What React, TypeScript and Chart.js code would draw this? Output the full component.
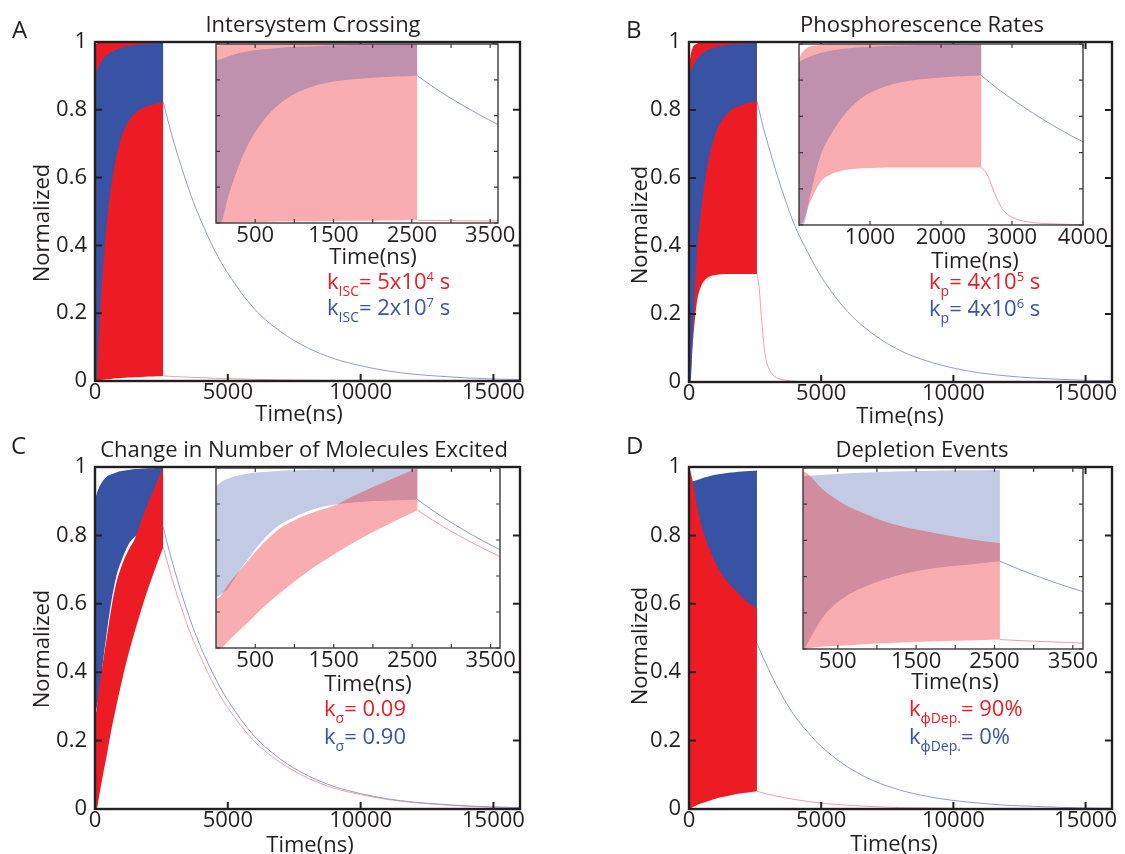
import React, { useEffect, useRef } from 'react';
import { Chart, registerables } from 'chart.js';

Chart.register(...registerables);

// ---------------- data ----------------
// time grid (ns) of the pulse-train envelopes
const TIME_BAND = [0, 60, 150, 300, 450, 600, 800, 1000, 1250, 1500, 1750, 2000, 2300, 2570];
// time grid (ns) of the decays after the pulse train
const TIME_DECAY = [2570, 2800, 3000, 3300, 3600, 4000, 4500, 5000, 6000, 7000, 8000, 9000, 10000, 11000, 12000, 13000, 14000, 15000, 16000];
const TIME_DECAY_FAST = [2570, 2650, 2720, 2790, 2860, 2950, 3100, 3300, 3600, 4000, 4500, 5000, 16000];

// A – Intersystem Crossing
const A_RED_LOW = [0, 0.001, 0.002, 0.004, 0.005, 0.006, 0.008, 0.009, 0.01, 0.011, 0.012, 0.013, 0.014, 0.015];
const A_RED_HIGH = [0.99, 0.995, 1, 1, 1, 1, 1, 1, 1, 1, 1, 1, 1, 1];
const A_BLUE_LOW = [0, 0, 0.14, 0.33, 0.47, 0.57, 0.66, 0.72, 0.765, 0.79, 0.803, 0.812, 0.818, 0.823];
const A_BLUE_HIGH = [0.91, 0.915, 0.93, 0.95, 0.962, 0.97, 0.978, 0.984, 0.988, 0.991, 0.993, 0.995, 0.996, 0.997];
const A_BLUE_DECAY = [0.823, 0.752, 0.696, 0.62, 0.55, 0.471, 0.386, 0.318, 0.213, 0.145, 0.098, 0.066, 0.045, 0.03, 0.02, 0.014, 0.009, 0.006, 0.004];
const A_RED_DECAY = [0.015, 0.014, 0.013, 0.012, 0.011, 0.01, 0.008, 0.007, 0.005, 0.003, 0.002, 0.0015, 0.001, 0.0007, 0.0005, 0.0003, 0.0002, 0.0001, 0];

// B – Phosphorescence Rates
const B_RED_LOW = [0, 0.02, 0.12, 0.235, 0.28, 0.3, 0.311, 0.315, 0.317, 0.318, 0.318, 0.318, 0.318, 0.318];
const B_RED_HIGH = [0.92, 0.96, 0.985, 0.995, 1, 1, 1, 1, 1, 1, 1, 1, 1, 1];
const B_BLUE_LOW = [0, 0, 0.15, 0.38, 0.5, 0.59, 0.675, 0.73, 0.77, 0.793, 0.807, 0.815, 0.822, 0.826];
const B_BLUE_HIGH = [0.9, 0.915, 0.93, 0.95, 0.963, 0.972, 0.98, 0.985, 0.989, 0.992, 0.994, 0.995, 0.996, 0.997];
const B_BLUE_DECAY = [0.826, 0.752, 0.696, 0.617, 0.545, 0.46, 0.38, 0.31, 0.207, 0.139, 0.092, 0.062, 0.041, 0.027, 0.018, 0.012, 0.008, 0.005, 0.004];
const B_RED_DECAY = [0.318, 0.28, 0.21, 0.145, 0.09, 0.055, 0.028, 0.013, 0.006, 0.002, 0.0005, 0, 0];

// C – Change in Number of Molecules Excited
const C_RED_LOW = [0, 0, 0.035, 0.1, 0.16, 0.225, 0.3, 0.37, 0.45, 0.52, 0.585, 0.645, 0.71, 0.765];
const C_RED_HIGH = [0.27, 0.29, 0.35, 0.43, 0.505, 0.58, 0.66, 0.71, 0.755, 0.79, 0.845, 0.895, 0.95, 1.0];
const C_BLUE_LOW = [0.28, 0.296, 0.33, 0.43, 0.52, 0.6, 0.68, 0.727, 0.772, 0.796, 0.808, 0.816, 0.821, 0.824];
const C_BLUE_HIGH = [0.9, 0.92, 0.94, 0.96, 0.972, 0.978, 0.984, 0.988, 0.991, 0.994, 0.995, 0.996, 0.997, 0.998];
const C_BLUE_DECAY = [0.824, 0.753, 0.697, 0.62, 0.55, 0.47, 0.387, 0.318, 0.213, 0.145, 0.098, 0.066, 0.045, 0.03, 0.02, 0.014, 0.009, 0.006, 0.004];
const C_RED_DECAY = [0.765, 0.7, 0.648, 0.577, 0.512, 0.44, 0.36, 0.296, 0.198, 0.135, 0.091, 0.061, 0.042, 0.028, 0.019, 0.013, 0.008, 0.005, 0.004];

// D – Depletion Events
const D_RED_LOW = [0, 0.002, 0.006, 0.012, 0.016, 0.02, 0.025, 0.03, 0.035, 0.039, 0.043, 0.046, 0.049, 0.052];
const D_RED_HIGH = [1.0, 0.985, 0.955, 0.885, 0.835, 0.795, 0.755, 0.72, 0.685, 0.66, 0.64, 0.62, 0.6, 0.585];
const D_BLUE_LOW = [0, 0, 0.06, 0.17, 0.24, 0.29, 0.335, 0.37, 0.405, 0.43, 0.447, 0.46, 0.473, 0.485];
const D_BLUE_HIGH = [0.955, 0.955, 0.958, 0.962, 0.966, 0.97, 0.974, 0.977, 0.98, 0.983, 0.985, 0.987, 0.988, 0.99];
const D_BLUE_DECAY = [0.485, 0.443, 0.41, 0.363, 0.321, 0.272, 0.224, 0.183, 0.123, 0.082, 0.055, 0.037, 0.025, 0.017, 0.011, 0.008, 0.005, 0.003, 0.002];
const D_RED_DECAY = [0.052, 0.047, 0.043, 0.038, 0.033, 0.028, 0.022, 0.017, 0.011, 0.007, 0.004, 0.003, 0.002, 0.001, 0.0007, 0.0004, 0.0002, 0.0001, 0];

// ticks & labels
const MAIN_X_TICKS = [0, 5000, 10000, 15000];
const Y_TICKS = [0, 0.2, 0.4, 0.6, 0.8, 1];
const INSET_TICKS_500 = [500, 1000, 1500, 2000, 2500, 3000, 3500];
const INSET_LABELS_500 = [500, 1500, 2500, 3500];
const INSET_TICKS_1000 = [1000, 2000, 3000, 4000];
const TITLES = ['Intersystem Crossing', 'Phosphorescence Rates', 'Change in Number of Molecules Excited', 'Depletion Events'];
const LETTERS = ['A', 'B', 'C', 'D'];
const X_TITLE = 'Time(ns)';
const Y_TITLE = 'Normalized';

// ---------------- styles ----------------
const FONT = '"Open Sans", "Noto Sans", sans-serif';
const INK = '#231f20';
const RED = '#ED1C24';
const BLUE = '#3953A4';
const RED_INSET = 'rgba(237, 28, 36, 0.36)';
const BLUE_INSET = 'rgba(57, 83, 164, 0.30)';
const RED_LINE = '#f3a0a4';
const BLUE_LINE = '#8e9bd3';
const LEGEND_RED = '#ED1C24';
const LEGEND_BLUE = '#3b55a5';

const pts = (xs: number[], ys: number[]) => xs.map((x, i) => ({ x, y: ys[i] }));

const PANELS = [
  { redLow: A_RED_LOW, redHigh: A_RED_HIGH, blueLow: A_BLUE_LOW, blueHigh: A_BLUE_HIGH, blueDecay: A_BLUE_DECAY, redDecay: A_RED_DECAY, redDecayTime: TIME_DECAY, redOnTop: false },
  { redLow: B_RED_LOW, redHigh: B_RED_HIGH, blueLow: B_BLUE_LOW, blueHigh: B_BLUE_HIGH, blueDecay: B_BLUE_DECAY, redDecay: B_RED_DECAY, redDecayTime: TIME_DECAY_FAST, redOnTop: false },
  { redLow: C_RED_LOW, redHigh: C_RED_HIGH, blueLow: C_BLUE_LOW, blueHigh: C_BLUE_HIGH, blueDecay: C_BLUE_DECAY, redDecay: C_RED_DECAY, redDecayTime: TIME_DECAY, redOnTop: true },
  { redLow: D_RED_LOW, redHigh: D_RED_HIGH, blueLow: D_BLUE_LOW, blueHigh: D_BLUE_HIGH, blueDecay: D_BLUE_DECAY, redDecay: D_RED_DECAY, redDecayTime: TIME_DECAY, redOnTop: true },
];

// geometry of main plots (canvas boxes)
const MAIN_GEOM = [
  { left: 0, top: 0, w: 540, h: 432, padTop: 42, padRight: 20, xH: 51 },
  { left: 594, top: 0, w: 531, h: 432, padTop: 42, padRight: 13, xH: 50 },
  { left: 0, top: 427, w: 540, h: 427, padTop: 40, padRight: 20, xH: 45 },
  { left: 594, top: 427, w: 531, h: 427, padTop: 40, padRight: 13, xH: 45 },
];
// inset canvases
const INSET_GEOM = [
  { left: 196, top: 40, w: 332, h: 213, min: 0, max: 3600, ticks: INSET_TICKS_500, labels: INSET_LABELS_500 },
  { left: 779, top: 40, w: 334, h: 215, min: 0, max: 4000, ticks: INSET_TICKS_1000, labels: INSET_TICKS_1000 },
  { left: 196, top: 464, w: 334, h: 214, min: 0, max: 3620, ticks: INSET_TICKS_500, labels: INSET_LABELS_500 },
  { left: 783, top: 464, w: 330, h: 215, min: 57, max: 3630, ticks: INSET_TICKS_500, labels: INSET_LABELS_500 },
];

// ---------------- plugin: MATLAB-like box with inward ticks ----------------
const frameTicks = {
  id: 'frameTicks',
  beforeDraw(chart: any, _a: any, opts: any) {
    if (!opts || !opts.fillArea) return;
    const { ctx, chartArea: ca } = chart;
    ctx.save();
    ctx.fillStyle = opts.fillArea;
    ctx.fillRect(ca.left, ca.top, ca.right - ca.left, ca.bottom - ca.top);
    ctx.restore();
  },
  afterDraw(chart: any, _a: any, opts: any) {
    const { ctx, chartArea: ca } = chart;
    const xs = chart.scales.x;
    const ys = chart.scales.y;
    ctx.save();
    ctx.strokeStyle = opts.color;
    ctx.lineWidth = opts.tickWidth;
    ctx.beginPath();
    for (const t of xs.ticks) {
      const px = xs.getPixelForValue(t.value);
      ctx.moveTo(px, ca.bottom);
      ctx.lineTo(px, ca.bottom - opts.tickLen);
      ctx.moveTo(px, ca.top);
      ctx.lineTo(px, ca.top + opts.tickLen);
    }
    for (const t of ys.ticks) {
      const py = ys.getPixelForValue(t.value);
      ctx.moveTo(ca.left, py);
      ctx.lineTo(ca.left + opts.tickLen, py);
      ctx.moveTo(ca.right, py);
      ctx.lineTo(ca.right - opts.tickLen, py);
    }
    ctx.stroke();
    ctx.lineWidth = opts.lineWidth;
    ctx.strokeRect(ca.left, ca.top, ca.right - ca.left, ca.bottom - ca.top);
    ctx.restore();
  },
};

function makeDatasets(p: any, inset: boolean) {
  const redFill = inset ? RED_INSET : RED;
  const blueFill = inset ? BLUE_INSET : BLUE;
  const common = { pointRadius: 0, borderWidth: 0, cubicInterpolationMode: 'monotone' };
  const red: any[] = [
    { ...common, label: 'red peaks', data: pts(TIME_BAND, p.redHigh), backgroundColor: redFill },
    { ...common, label: 'red troughs', data: pts(TIME_BAND, p.redLow), fill: false },
  ];
  const blue: any[] = [
    { ...common, label: 'blue peaks', data: pts(TIME_BAND, p.blueHigh), backgroundColor: blueFill },
    { ...common, label: 'blue troughs', data: pts(TIME_BAND, p.blueLow), fill: false },
  ];
  const pairs = p.redOnTop ? [red, blue] : [blue, red];
  pairs[0][0].fill = 1;
  pairs[1][0].fill = 3;
  return [
    ...pairs[0],
    ...pairs[1],
    { ...common, label: 'blue decay', data: pts(TIME_DECAY, p.blueDecay), borderWidth: 1, borderColor: BLUE_LINE, fill: false },
    { ...common, label: 'red decay', data: pts(p.redDecayTime, p.redDecay), borderWidth: 1, borderColor: RED_LINE, fill: false },
  ];
}

const tickFont = { family: FONT, size: 22, lineHeight: 1 };

function mainConfig(i: number): any {
  const g = MAIN_GEOM[i];
  return {
    type: 'line',
    data: { datasets: makeDatasets(PANELS[i], false) },
    options: {
      animation: false,
      responsive: false,
      maintainAspectRatio: false,
      devicePixelRatio: 1,
      events: [],
      layout: { padding: { left: 0, top: g.padTop, right: g.padRight, bottom: 0 } },
      plugins: {
        legend: { display: false },
        tooltip: { enabled: false },
        frameTicks: { color: INK, lineWidth: 2.4, tickLen: 7, tickWidth: 2 },
      },
      scales: {
        x: {
          type: 'linear', min: 0, max: 16000,
          afterBuildTicks: (s: any) => { s.ticks = MAIN_X_TICKS.map((v) => ({ value: v })); },
          afterFit: (s: any) => { s.height = g.xH; s.paddingLeft = 0; s.paddingRight = 0; },
          grid: { display: false, drawTicks: false },
          border: { display: false },
          ticks: { autoSkip: false, maxRotation: 0, minRotation: 0, padding: 1, color: INK, font: tickFont, callback: (v: number) => String(v) },
        },
        y: {
          type: 'linear', min: 0, max: 1,
          afterBuildTicks: (s: any) => { s.ticks = Y_TICKS.map((v) => ({ value: v })); },
          afterFit: (s: any) => { s.width = 95; s.paddingTop = 0; s.paddingBottom = 0; },
          grid: { display: false, drawTicks: false },
          border: { display: false },
          ticks: { padding: 8, color: INK, font: tickFont, callback: (v: number) => String(Math.round(v * 10) / 10) },
        },
      },
    },
    plugins: [frameTicks],
  };
}

function insetConfig(i: number): any {
  const g = INSET_GEOM[i];
  return {
    type: 'line',
    data: { datasets: makeDatasets(PANELS[i], true) },
    options: {
      animation: false,
      responsive: false,
      maintainAspectRatio: false,
      devicePixelRatio: 1,
      events: [],
      layout: { padding: { left: 0, top: 4, right: 30, bottom: 0 } },
      plugins: {
        legend: { display: false },
        tooltip: { enabled: false },
        frameTicks: { color: '#3a3a3a', lineWidth: 1.4, tickLen: 4, tickWidth: 1.2, fillArea: '#ffffff' },
      },
      scales: {
        x: {
          type: 'linear', min: g.min, max: g.max,
          afterBuildTicks: (s: any) => { s.ticks = g.ticks.map((v: number) => ({ value: v })); },
          afterFit: (s: any) => { s.height = 30; s.paddingLeft = 0; s.paddingRight = 0; },
          grid: { display: false, drawTicks: false },
          border: { display: false },
          ticks: {
            autoSkip: false, maxRotation: 0, minRotation: 0, padding: 2, color: INK, font: tickFont,
            callback: (v: number) => (g.labels.includes(v) ? String(v) : ''),
          },
        },
        y: {
          type: 'linear', min: 0, max: 1,
          afterBuildTicks: (s: any) => { s.ticks = Y_TICKS.map((v) => ({ value: v })); },
          afterFit: (s: any) => { s.width = 20; s.paddingTop = 0; s.paddingBottom = 0; },
          grid: { display: false, drawTicks: false },
          border: { display: false },
          ticks: { display: false },
        },
      },
    },
    plugins: [frameTicks],
  };
}

function ChartCanvas({ left, top, w, h, make }: { left: number; top: number; w: number; h: number; make: () => any }) {
  const ref = useRef<HTMLCanvasElement>(null);
  useEffect(() => {
    const chart = new Chart(ref.current as HTMLCanvasElement, make());
    return () => chart.destroy();
  }, []);
  return <canvas ref={ref} width={w} height={h} style={{ position: 'absolute', left, top, width: w, height: h }} />;
}

const TEXT: any = { position: 'absolute', fontFamily: FONT, fontSize: 22, lineHeight: '22px', color: INK, whiteSpace: 'nowrap' };

function Centered({ cx, top, children }: any) {
  return <div style={{ ...TEXT, left: cx, top, transform: 'translateX(-50%)' }}>{children}</div>;
}

function Vertical({ cx, cy, children }: any) {
  return <div style={{ ...TEXT, left: cx, top: cy, transform: 'translate(-50%, -50%) rotate(-90deg)' }}>{children}</div>;
}

function KLine({ left, top, color, sub, value, sup, tail }: any) {
  return (
    <div style={{ ...TEXT, left, top, color }}>
      k<span style={{ fontSize: 14, position: 'relative', top: 7 }}>{sub}</span>= {value}
      {sup ? <span style={{ fontSize: 13, position: 'relative', top: -8 }}>{sup}</span> : null}
      {tail}
    </div>
  );
}

const LETTER_POS = [{ left: 12, top: 17 }, { left: 626, top: 17 }, { left: 11, top: 433 }, { left: 626, top: 433 }];
const TITLE_POS = [{ cx: 313, top: 12 }, { cx: 922, top: 12 }, { cx: 304, top: 437 }, { cx: 922, top: 437 }];
const INSET_TITLE_POS = [{ cx: 373, top: 244 }, { cx: 975, top: 248 }, { cx: 368, top: 671 }, { cx: 955, top: 669 }];
const X_TITLE_POS = [{ cx: 299, top: 401 }, { cx: 900, top: 403 }, { cx: 310, top: 832 }, { cx: 894, top: 831 }];
const Y_TITLE_POS = [{ cx: 40, cy: 223 }, { cx: 638, cy: 225 }, { cx: 40, cy: 649 }, { cx: 638, cy: 646 }];

export default function App() {
  return (
    <div style={{ position: 'absolute', left: 0, top: 0, width: 1125, height: 854, overflow: 'hidden', background: '#ffffff' }}>
      {MAIN_GEOM.map((g, i) => (
        <ChartCanvas key={'m' + i} left={g.left} top={g.top} w={g.w} h={g.h} make={() => mainConfig(i)} />
      ))}
      {INSET_GEOM.map((g, i) => (
        <ChartCanvas key={'i' + i} left={g.left} top={g.top} w={g.w} h={g.h} make={() => insetConfig(i)} />
      ))}
      {LETTERS.map((l, i) => (
        <div key={'l' + i} style={{ ...TEXT, fontSize: 24, lineHeight: '24px', left: LETTER_POS[i].left, top: LETTER_POS[i].top }}>{l}</div>
      ))}
      {TITLES.map((t, i) => (
        <Centered key={'t' + i} cx={TITLE_POS[i].cx} top={TITLE_POS[i].top}>{t}</Centered>
      ))}
      {X_TITLE_POS.map((p, i) => (
        <Centered key={'xt' + i} cx={p.cx} top={p.top}>{X_TITLE}</Centered>
      ))}
      {Y_TITLE_POS.map((p, i) => (
        <Vertical key={'yt' + i} cx={p.cx} cy={p.cy}>{Y_TITLE}</Vertical>
      ))}
      {INSET_TITLE_POS.map((p, i) => (
        <Centered key={'it' + i} cx={p.cx} top={p.top}>{X_TITLE}</Centered>
      ))}
      <KLine left={327} top={268.5} color={LEGEND_RED} sub="ISC" value="5x10" sup="4" tail=" s" />
      <KLine left={327} top={295} color={LEGEND_BLUE} sub="ISC" value="2x10" sup="7" tail=" s" />
      <KLine left={929} top={268.5} color={LEGEND_RED} sub="p" value="4x10" sup="5" tail=" s" />
      <KLine left={929} top={295.5} color={LEGEND_BLUE} sub="p" value="4x10" sup="6" tail=" s" />
      <KLine left={324} top={695.5} color={LEGEND_RED} sub="σ" value="0.09" />
      <KLine left={324} top={723.5} color={LEGEND_BLUE} sub="σ" value="0.90" />
      <KLine left={909} top={695.5} color={LEGEND_RED} sub="ϕDep." value="90%" />
      <KLine left={909} top={723.5} color={LEGEND_BLUE} sub="ϕDep." value="0%" />
    </div>
  );
}
